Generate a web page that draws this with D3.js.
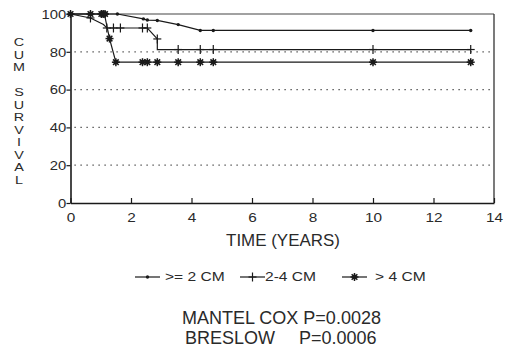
<!DOCTYPE html>
<html>
<head>
<meta charset="utf-8">
<script src="https://cdn.jsdelivr.net/npm/d3@7"></script>
<style>
html,body{margin:0;padding:0;background:#fff;}
svg{display:block;}
text{font-family:"Liberation Sans",Arial,Helvetica,sans-serif;fill:#2a2a2a;}
</style>
</head>
<body>
<svg id="chart" width="505" height="349"></svg>
<script>
// ---- data ----
const xTicks = [0, 2, 4, 6, 8, 10, 12, 14];
const yTicks = [0, 20, 40, 60, 80, 100];
const gridValues = [20, 40, 60, 80];
const seriesNames = [">= 2 CM", "2-4 CM", "> 4 CM"];

// ">= 2 CM"
const smallTimes = [0, 1.15, 1.55, 2.41, 2.54, 2.87, 3.56, 4.29, 4.72, 10.0, 13.23];
const smallSurv  = [100, 100, 100, 97.4, 96.8, 96.6, 94.4, 91.3, 91.3, 91.3, 91.3];
const smallMarkTimes = [1.1, 1.15, 1.2, 1.55, 2.41, 2.54, 2.87, 3.56, 4.29, 4.72, 10.0, 13.23];
const smallMarkSurv  = [100, 100, 100, 100, 97.4, 96.8, 96.6, 94.4, 91.3, 91.3, 91.3, 91.3];

// "2-4 CM"
const midTimes = [0, 0.66, 1.09, 1.2, 2.54, 2.87, 2.87, 13.23];
const midSurv  = [100, 97.9, 94.4, 92.6, 92.6, 86.8, 81.2, 81.2];
const midMarkTimes = [0.66, 1.2, 1.42, 1.65, 2.38, 2.54, 2.87, 3.56, 4.29, 4.72, 10.0, 13.23];
const midMarkSurv  = [97.9, 92.6, 92.6, 92.6, 92.6, 92.6, 86.8, 81.2, 81.2, 81.2, 81.2, 81.2];

// "> 4 CM"
const largeTimes = [0, 1.12, 1.29, 1.5, 13.23];
const largeSurv  = [100, 100, 87.0, 74.5, 74.5];
const largeMarkTimes = [0, 0.66, 1.02, 1.08, 1.14, 1.29, 1.5, 2.38, 2.54, 2.87, 3.56, 4.29, 4.72, 10.0, 13.23];
const largeMarkSurv  = [100, 100, 100, 100, 100, 87.0, 74.5, 74.5, 74.5, 74.5, 74.5, 74.5, 74.5, 74.5, 74.5];

const yLabelLetters = ["C","U","M","","S","U","R","V","I","V","A","L"];
const stats = [["MANTEL COX", "P=0.0028"], ["BRESLOW", "P=0.0006"]];

// ---- drawing ----
const svg = d3.select("#chart");
const x = d3.scaleLinear().domain([0, 14]).range([70.5, 494]);
const y = d3.scaleLinear().domain([0, 100]).range([203, 14]);
const ink = "#1a1a1a";
const textInk = "#2a2a2a";

function wideText(parent, px, py, str, size, sx, anchor) {
  const g = parent.append("g").attr("transform", `translate(${px},${py}) scale(${sx},1)`);
  g.append("text").attr("text-anchor", anchor || "start").attr("dy", "0.35em")
    .attr("font-size", size).text(str);
  return g;
}

// gridlines
svg.append("g").selectAll("line").data(gridValues).join("line")
  .attr("x1", x(0) + 4).attr("x2", x(14))
  .attr("y1", d => y(d)).attr("y2", d => y(d))
  .attr("stroke", "#333").attr("stroke-width", 1.2)
  .attr("stroke-dasharray", "1.2,4.8");

// box: top + right
svg.append("line").attr("x1", x(0)).attr("x2", x(14)).attr("y1", y(100)).attr("y2", y(100))
  .attr("stroke", "#444").attr("stroke-width", 1.1);
svg.append("line").attr("x1", x(14)).attr("x2", x(14)).attr("y1", y(100)).attr("y2", y(0))
  .attr("stroke", "#333").attr("stroke-width", 1.3);

// axes
const xAxis = d3.axisBottom(x).tickValues(xTicks).tickSizeInner(-5).tickSizeOuter(0).tickFormat(d3.format("d"));
const gx = svg.append("g").attr("transform", `translate(0,${y(0)})`).call(xAxis);
gx.select(".domain").attr("stroke", ink).attr("stroke-width", 1.6);
gx.selectAll(".tick line").attr("stroke", ink).attr("stroke-width", 1.2);
gx.selectAll(".tick text").attr("font-size", 13).attr("fill", textInk)
  .attr("font-family", "Liberation Sans, Arial, sans-serif")
  .attr("y", 14).attr("dy", "0.35em").attr("transform", "scale(1.18,1)");

const yAxis = d3.axisLeft(y).tickValues(yTicks).tickSizeInner(4).tickSizeOuter(0).tickFormat(d3.format("d"));
const gy = svg.append("g").attr("transform", `translate(${x(0)},0)`).call(yAxis);
gy.select(".domain").attr("stroke", ink).attr("stroke-width", 1.6);
gy.selectAll(".tick line").attr("stroke", ink).attr("stroke-width", 1.2);
gy.selectAll(".tick text").attr("font-size", 13.5).attr("fill", textInk)
  .attr("font-family", "Liberation Sans, Arial, sans-serif")
  .attr("x", -3).attr("transform", "translate(-1,0) scale(1.1,1)");

// curves
const line = d3.line().x(d => x(d[0])).y(d => y(d[1]));
const curves = [
  {t: smallTimes, s: smallSurv, mt: smallMarkTimes, ms: smallMarkSurv, mark: "dot"},
  {t: midTimes, s: midSurv, mt: midMarkTimes, ms: midMarkSurv, mark: "plus"},
  {t: largeTimes, s: largeSurv, mt: largeMarkTimes, ms: largeMarkSurv, mark: "star"}
];

function drawMarker(g, kind, cx, cy) {
  if (kind === "dot") {
    g.append("circle").attr("cx", cx).attr("cy", cy).attr("r", 1.7).attr("fill", ink);
  } else if (kind === "plus") {
    g.append("line").attr("x1", cx).attr("x2", cx).attr("y1", cy - 4.5).attr("y2", cy + 4.5)
      .attr("stroke", ink).attr("stroke-width", 1.2);
    g.append("line").attr("x1", cx - 4).attr("x2", cx + 4).attr("y1", cy).attr("y2", cy)
      .attr("stroke", ink).attr("stroke-width", 1.2);
  } else {
    [0, 45, 90, 135].forEach(a => {
      const r = 4, rad = a * Math.PI / 180;
      g.append("line")
        .attr("x1", cx - r * Math.cos(rad)).attr("y1", cy - r * Math.sin(rad))
        .attr("x2", cx + r * Math.cos(rad)).attr("y2", cy + r * Math.sin(rad))
        .attr("stroke", ink).attr("stroke-width", 1.5);
    });
    g.append("circle").attr("cx", cx).attr("cy", cy).attr("r", 2.4).attr("fill", ink);
  }
}

curves.forEach(c => {
  const pts = c.t.map((t, i) => [t, c.s[i]]);
  svg.append("path").datum(pts).attr("d", line)
    .attr("fill", "none").attr("stroke", ink).attr("stroke-width", 1.2);
  const g = svg.append("g");
  c.mt.forEach((t, i) => drawMarker(g, c.mark, x(t), y(c.ms[i])));
});

// y label (stacked letters)
yLabelLetters.forEach((ch, i) => {
  if (ch) wideText(svg, 19, 42 + i * 12.5, ch, 11.5, 1.25, "middle");
});

// x title
wideText(svg, 283, 240, "TIME (YEARS)", 16, 1.06, "middle");

// legend
const legX = [135, 240, 342];
const legTextX = [165, 265, 375];
const legKinds = ["dot", "plus", "star"];
const legY = 277;
seriesNames.forEach((name, i) => {
  const g = svg.append("g");
  g.append("line").attr("x1", legX[i]).attr("x2", legX[i] + 25).attr("y1", legY).attr("y2", legY)
    .attr("stroke", ink).attr("stroke-width", 1.2);
  drawMarker(g, legKinds[i], legX[i] + 12.5, legY);
  wideText(svg, legTextX[i], legY, name, 12, 1.3, "start");
});

// statistics
wideText(svg, 182, 318, stats[0][0] + " " + stats[0][1], 18, 1.0, "start");
wideText(svg, 185, 338, stats[1][0], 18, 1.0, "start");
wideText(svg, 299, 338, stats[1][1], 18, 1.0, "start");
</script>
</body>
</html>
